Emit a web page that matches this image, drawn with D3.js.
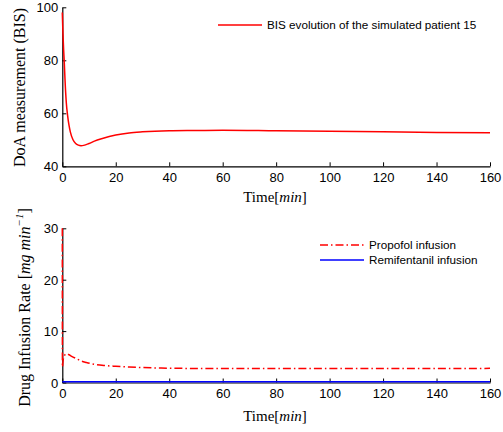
<!DOCTYPE html>
<html><head><meta charset="utf-8">
<script src="https://cdn.jsdelivr.net/npm/d3@7"></script>
<style>body{margin:0;background:#fff}</style>
</head><body>
<script>
// ---- data ----
const bisTime  = [0,0.25,0.5,0.75,1,1.5,2,2.5,3,4,5,6,7,8,10,12,15,20,25,30,40,50,60,80,100,120,140,160];
const bisValue = [98,90,84,79,73,64,59,55.5,53,50,48.6,48,47.8,47.9,48.6,49.5,50.5,51.8,52.6,53.0,53.4,53.5,53.6,53.4,53.2,53.0,52.8,52.7];
const propTime  = [0,0.05,0.3,0.6,1,1.7,2.5,3.5,5,7,9,12,16,20,25,30,37,45,60,80,100,120,140,160];
const propValue = [30,3,4.3,5.0,5.4,5.6,5.4,5.1,4.7,4.2,3.9,3.55,3.3,3.15,3.0,2.9,2.8,2.75,2.72,2.72,2.72,2.72,2.73,2.75];
const remiTime  = [0,160];
const remiValue = [0.15,0.15];
const xTicks = [0,20,40,60,80,100,120,140,160];
const bisTicks = [40,60,80,100];
const rateTicks = [0,10,20,30];
const legendTop = ["BIS evolution of the simulated patient 15"];
const legendBottom = ["Propofol infusion","Remifentanil infusion"];

const W=503,H=432;
const svg=d3.select("body").append("svg").attr("width",W).attr("height",H)
  .style("font-family","'Liberation Sans',Arial,sans-serif");

const x=d3.scaleLinear().domain([0,160]).range([62.3,490]);
const y1=d3.scaleLinear().domain([40,100]).range([166.3,7.3]);
const y2=d3.scaleLinear().domain([0,30]).range([382.5,228.3]);

function axes(y,ticks,yBottom){
  const gx=svg.append("g").attr("transform",`translate(0,${yBottom})`)
    .call(d3.axisBottom(x).tickValues(xTicks).tickSizeInner(-4).tickSizeOuter(0).tickPadding(6));
  const gy=svg.append("g").attr("transform",`translate(${x(0)},0)`)
    .call(d3.axisLeft(y).tickValues(ticks).tickSizeInner(-4).tickSizeOuter(0).tickPadding(4));
  [gx,gy].forEach(g=>{
    g.select(".domain").attr("stroke","#000").attr("stroke-width",1.2);
    g.selectAll(".tick line").attr("stroke","#000");
    g.selectAll("text").attr("font-size",13).attr("fill","#000").attr("font-family","'Liberation Sans',Arial,sans-serif");
  });
  gy.selectAll("text").attr("dy","0.35em");
}
axes(y1,bisTicks,y1(40));
axes(y2,rateTicks,y2(0));

// BIS line
const bisData=bisTime.map((t,i)=>[t,bisValue[i]]);
svg.append("path").datum(bisData).attr("fill","none").attr("stroke","#ff0000").attr("stroke-width",1.5)
  .attr("d",d3.line().x(d=>x(d[0])).y(d=>y1(d[1])).curve(d3.curveMonotoneX));

// Propofol
const propData=propTime.map((t,i)=>[t,propValue[i]]);
svg.append("path").datum(propData).attr("fill","none").attr("stroke","#ff0000").attr("stroke-width",1.5)
  .attr("stroke-dasharray","8,3,1.5,3")
  .attr("d",d3.line().x(d=>x(d[0])).y(d=>y2(d[1])).curve(d3.curveMonotoneX));
// Remifentanil
const remiData=remiTime.map((t,i)=>[t,remiValue[i]]);
svg.append("path").datum(remiData).attr("fill","none").attr("stroke","#0000ff").attr("stroke-width",1.5)
  .attr("d",d3.line().x(d=>x(d[0])).y(d=>y2(d[1])));

// legends
function legend(x0,y0,labels,styles){
  labels.forEach((lab,i)=>{
    const yy=y0+i*15;
    svg.append("line").attr("x1",x0).attr("x2",x0+44).attr("y1",yy).attr("y2",yy)
      .attr("stroke",styles[i].c).attr("stroke-width",1.5).attr("stroke-dasharray",styles[i].d||null);
    svg.append("text").attr("x",x0+49).attr("y",yy).attr("dy","0.35em").attr("font-size",11.7).text(lab);
  });
}
legend(218,25,legendTop,[{c:"#ff0000"}]);
legend(320,245,legendBottom,[{c:"#ff0000",d:"8,3,1.5,3"},{c:"#0000ff"}]);

// axis labels (serif)
const serif="'Liberation Serif',serif";
function timeLabel(yy){
  const t=svg.append("text").attr("x",275).attr("y",yy).attr("text-anchor","middle")
    .attr("font-family",serif).attr("font-size",15);
  t.append("tspan").text("Time[");
  t.append("tspan").attr("font-style","italic").text("min");
  t.append("tspan").text("]");
}
timeLabel(201.5);
timeLabel(421);
svg.append("text").attr("transform","translate(25,87.5) rotate(-90)").attr("text-anchor","middle")
  .attr("font-family",serif).attr("font-size",16).text("DoA measurement (BIS)");
const yl=svg.append("text").attr("transform","translate(30,307.5) rotate(-90)").attr("text-anchor","middle")
  .attr("font-family",serif).attr("font-size",16);
yl.append("tspan").text("Drug Infusion Rate [");
yl.append("tspan").attr("font-style","italic").text("mg min");
yl.append("tspan").attr("font-style","italic").attr("font-size",11).attr("dy",-7).text("−1");
yl.append("tspan").attr("dy",7).text("]");
</script>
</body></html>
